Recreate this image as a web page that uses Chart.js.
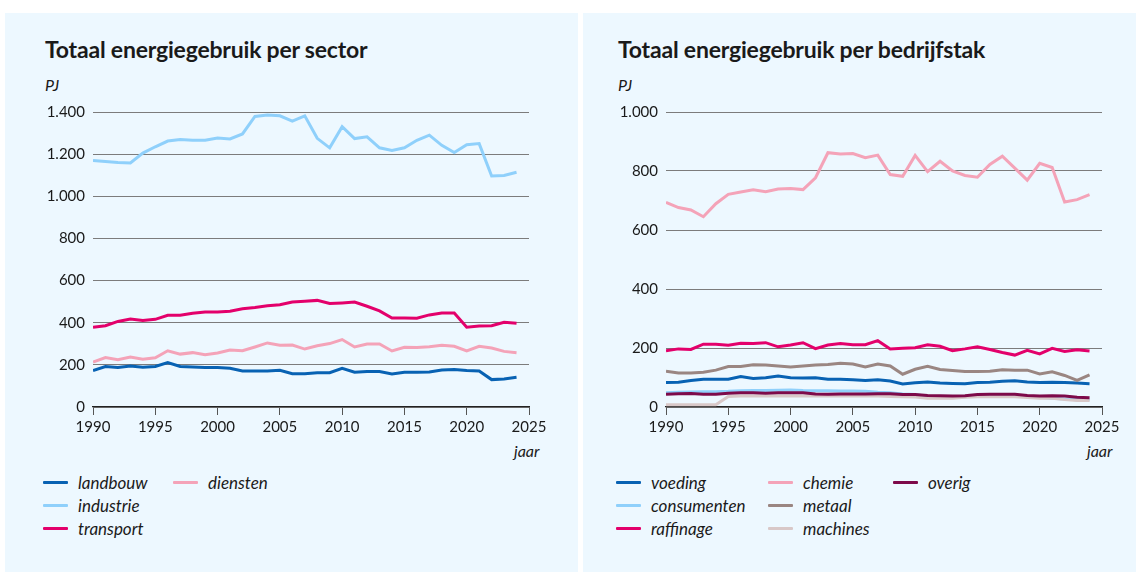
<!DOCTYPE html>
<html>
<head>
<meta charset="utf-8">
<script src="https://cdn.jsdelivr.net/npm/chart.js@4"></script>
<style>
  html, body { margin: 0; padding: 0; background: #fff; }
  body { width: 1136px; height: 572px; position: relative; overflow: hidden; font-family: Lato, "Open Sans", sans-serif; color: #1a1a1a; }
  .panel { position: absolute; top: 13px; height: 559px; background: #edf8ff; }
  .title { position: absolute; top: 35px; font-weight: bold; font-size: 23px; letter-spacing: -0.2px; }
  .unit, .xlab { position: absolute; font-style: italic; font-size: 16px; }
  .cv { position: absolute; top: 90px; width: 530px; height: 375px; }
  .legend { position: absolute; top: 471px; display: grid; grid-auto-flow: column; grid-template-rows: repeat(3, 23px); font-style: italic; font-size: 17px; }
  .legend div { display: flex; align-items: center; }
  .legend span.sw { display: inline-block; width: 25px; height: 3px; margin-right: 10px; border-radius: 1px; }
</style>
</head>
<body>
<div class="panel" style="left:5px;width:573px"></div>
<div class="panel" style="left:583px;width:553px"></div>

<div class="title" style="left:45px">Totaal energiegebruik per sector</div>
<div class="title" style="left:618px">Totaal energiegebruik per bedrijfstak</div>
<div class="unit" style="left:45px;top:75px">PJ</div>
<div class="unit" style="left:618px;top:75px">PJ</div>
<div class="xlab" style="left:514px;top:441px">jaar</div>
<div class="xlab" style="left:1087px;top:441px">jaar</div>

<canvas id="sectorChart" class="cv" style="left:30px" width="530" height="375"></canvas>
<canvas id="branchChart" class="cv" style="left:603px" width="530" height="375"></canvas>

<div id="legendSector" class="legend" style="left:43px;grid-template-columns:130px 130px"></div>
<div id="legendBranch" class="legend" style="left:616px;grid-template-columns:152px 125px 130px"></div>

<script>
// --- data ---
const years = [1990, 1991, 1992, 1993, 1994, 1995, 1996, 1997, 1998, 1999,
  2000, 2001, 2002, 2003, 2004, 2005, 2006, 2007, 2008, 2009,
  2010, 2011, 2012, 2013, 2014, 2015, 2016, 2017, 2018, 2019,
  2020, 2021, 2022, 2023, 2024];
const xTicks = [1990, 1995, 2000, 2005, 2010, 2015, 2020, 2025];

// per sector (PJ)
const landbouw = [173, 192, 187, 195, 189, 192, 211, 192, 190, 187, 187, 184, 171, 171, 171, 174, 158, 158, 163, 163,
  184, 165, 168, 168, 157, 165, 165, 166, 176, 178, 173, 171, 130, 133, 141];
const industrie = [1170, 1165, 1160, 1158, 1205, 1235, 1262, 1269, 1266, 1266, 1277, 1272, 1296, 1379, 1386, 1382, 1357, 1382, 1275, 1230,
  1330, 1274, 1282, 1230, 1218, 1230, 1266, 1290, 1242, 1208, 1245, 1250, 1096, 1099, 1114];
const transport = [379, 386, 406, 418, 410, 416, 435, 435, 445, 451, 451, 454, 466, 472, 480, 485, 498, 502, 506, 491,
  494, 498, 478, 456, 422, 422, 421, 437, 446, 446, 379, 384, 386, 402, 398];
const diensten = [213, 235, 224, 237, 227, 234, 267, 251, 258, 248, 256, 270, 267, 285, 304, 293, 294, 275, 291, 301,
  320, 285, 299, 299, 266, 283, 282, 286, 293, 288, 266, 288, 280, 264, 258];

// per bedrijfstak (PJ)
const voeding = [83, 84, 90, 94, 94, 94, 103, 97, 99, 105, 99, 98, 99, 94, 94, 92, 90, 92, 88, 78,
  82, 85, 81, 80, 79, 83, 84, 87, 89, 85, 83, 84, 83, 81, 79];
const consumenten = [48, 50, 51, 52, 52, 53, 55, 56, 56, 57, 58, 56, 55, 55, 54, 54, 53, 50, 48, 44,
  42, 36, 33, 32, 35, 38, 40, 40, 40, 36, 33, 30, 27, 25, 25];
const raffinage = [191, 197, 195, 213, 213, 209, 216, 215, 218, 204, 210, 218, 198, 210, 215, 211, 211, 225, 197, 199,
  201, 211, 206, 191, 197, 204, 195, 185, 176, 192, 180, 199, 188, 194, 190];
const chemie = [694, 676, 668, 645, 689, 721, 729, 736, 730, 739, 741, 737, 777, 862, 858, 859, 845, 854, 788, 782,
  853, 798, 833, 800, 785, 779, 822, 850, 810, 769, 826, 812, 695, 703, 720];
const metaal = [121, 115, 115, 118, 125, 137, 137, 143, 142, 139, 136, 139, 142, 144, 148, 146, 136, 146, 139, 111,
  128, 138, 127, 124, 120, 120, 121, 126, 125, 125, 112, 119, 107, 90, 109];
const machines = [8, 8, 8, 8, 8, 36, 37, 37, 37, 37, 37, 37, 37, 37, 37, 37, 37, 37, 36, 35,
  34, 30, 30, 30, 33, 35, 35, 35, 35, 32, 30, 30, 25, 22, 22];
const overig = [43, 45, 46, 43, 43, 47, 48, 48, 47, 48, 48, 48, 44, 43, 44, 44, 44, 45, 45, 42,
  42, 39, 38, 37, 38, 42, 43, 43, 43, 39, 37, 38, 37, 33, 31];

const C = {
  blue: '#0862b3', light: '#8fd0fb', magenta: '#e3006b', pink: '#f4a3b8',
  metal: '#9a8682', mach: '#d8c8c8', purple: '#7d0a4a'
};

const sectorSeries = [
  { label: 'landbouw', data: landbouw, color: C.blue },
  { label: 'industrie', data: industrie, color: C.light },
  { label: 'transport', data: transport, color: C.magenta },
  { label: 'diensten', data: diensten, color: C.pink }
];
const branchSeries = [
  { label: 'voeding', data: voeding, color: C.blue },
  { label: 'consumenten', data: consumenten, color: C.light },
  { label: 'raffinage', data: raffinage, color: C.magenta },
  { label: 'chemie', data: chemie, color: C.pink },
  { label: 'metaal', data: metaal, color: C.metal },
  { label: 'machines', data: machines, color: C.mach },
  { label: 'overig', data: overig, color: C.purple }
];

function fmt(v) {
  if (v >= 1000) return Math.floor(v / 1000) + '.' + String(v % 1000).padStart(3, '0');
  return String(v);
}

function makeChart(id, series, yMax) {
  const tickFont = { family: 'Lato, "Open Sans", sans-serif', size: 15 };
  return new Chart(document.getElementById(id), {
    type: 'line',
    data: {
      datasets: series.map((s, i) => ({
        label: s.label,
        data: years.map((y, k) => ({ x: y, y: s.data[k] })),
        borderColor: s.color,
        backgroundColor: s.color,
        borderWidth: 3,
        pointRadius: 0,
        tension: 0,
        order: series.length - i
      }))
    },
    options: {
      responsive: false, animation: false,
      layout: { padding: { top: 22, right: 31, left: 0, bottom: 0 } },
      plugins: { legend: { display: false }, tooltip: { enabled: false } },
      scales: {
        x: {
          type: 'linear', min: 1990, max: 2025,
          afterBuildTicks: sc => { sc.ticks = xTicks.map(v => ({ value: v })); },
          afterFit: sc => { sc.height = 58; },
          grid: { drawOnChartArea: false, drawTicks: true, tickLength: 8, color: '#555', lineWidth: 1 },
          border: { display: true, color: '#222', width: 1.2 },
          ticks: { color: '#1a1a1a', font: tickFont, padding: 3, maxRotation: 0, autoSkip: false, callback: v => String(v) }
        },
        y: {
          min: 0, max: yMax,
          afterFit: sc => { sc.width = 63; },
          grid: { color: '#7c7c7c', lineWidth: 1, drawTicks: false },
          border: { display: false },
          ticks: { stepSize: 200, color: '#1a1a1a', font: tickFont, padding: 8, callback: v => fmt(v) }
        }
      }
    }
  });
}

function makeLegend(id, series) {
  const box = document.getElementById(id);
  series.forEach(s => {
    const d = document.createElement('div');
    d.innerHTML = '<span class="sw" style="background:' + s.color + '"></span>' + s.label;
    box.appendChild(d);
  });
}

makeChart('sectorChart', sectorSeries, 1400);
makeChart('branchChart', branchSeries, 1000);
makeLegend('legendSector', sectorSeries);
makeLegend('legendBranch', branchSeries);
</script>
</body>
</html>
